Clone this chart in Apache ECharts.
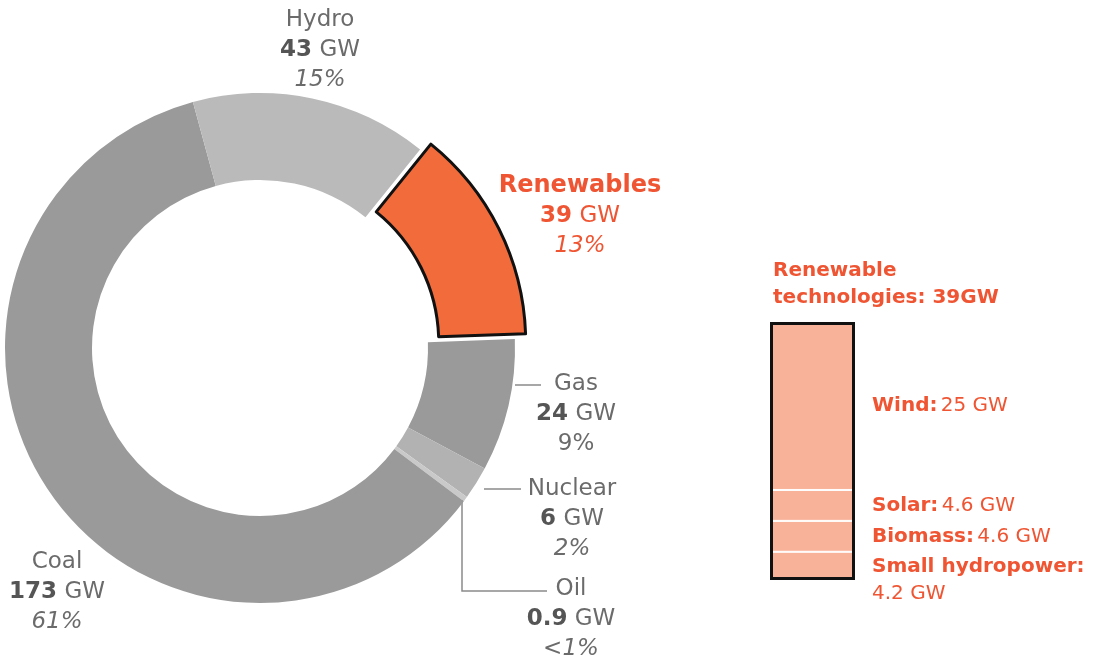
<!DOCTYPE html>
<html>
<head>
<meta charset="utf-8">
<script src="https://cdn.jsdelivr.net/npm/echarts@6/dist/echarts.min.js"></script>
<style>
  html, body { margin: 0; padding: 0; background: #fff; }
  #chart { width: 1095px; height: 657px; }
</style>
</head>
<body>
<div id="chart"></div>
<script>
// capacity by source, clockwise from 3 o'clock
var sources = ['Gas', 'Nuclear', 'Oil', 'Coal', 'Hydro', 'Renewables'];
var sourceGW = [24, 6, 0.9, 173, 43, 39];
var shareLabels = ['9%', '2%', '<1%', '61%', '15%', '13%'];
var sourceColors = ['#9a9a9a', '#b2b2b2', '#c9c9c9', '#9a9a9a', '#bababa', '#f26c3b'];

// renewable breakdown, bottom to top
var techNames = ['Small hydropower', 'Biomass', 'Solar', 'Wind'];
var techGW = [4.2, 4.6, 4.6, 25];

var ORANGE = '#ef5532';
var GREY = '#6b6b6b';
var FONT = 'DejaVu Sans';

var chart = echarts.init(document.getElementById('chart'));

var CENTER = [260, 348];
var START = 2;
var POP = 12; // how far the renewables slice is pulled out

// where each pie label sits (text block middle) and its leader line
var labelPos = {
    Hydro: { x: 320, y: 50 },
    Renewables: { x: 580, y: 216 },
    Gas: { x: 576, y: 414, line: [[515, 385], [541, 385]] },
    Nuclear: { x: 572, y: 519, line: [[484, 489], [521, 489]] },
    Oil: { x: 571, y: 619, line: [[462, 500], [462, 591], [547, 591]] },
    Coal: { x: 57, y: 592 }
};

function txt(color, extra) {
    var s = { fontFamily: FONT, fontSize: 23, color: color, lineHeight: 30 };
    for (var k in extra) s[k] = extra[k];
    return s;
}

var pieRich = {
    n: txt(GREY),
    v: txt('#555', { fontWeight: 'bold' }),
    p: txt(GREY, { fontStyle: 'italic' }),
    pu: txt(GREY),
    on: txt(ORANGE),
    ob: txt(ORANGE, { fontWeight: 'bold', fontSize: 24 }),
    ov: txt(ORANGE, { fontWeight: 'bold' }),
    op: txt(ORANGE, { fontStyle: 'italic' })
};

// renewables is the last slice clockwise, so it ends at START
var totalGW = sourceGW.reduce(function (a, b) { return a + b; }, 0);
var renIdx = sources.indexOf('Renewables');
var midAngle = (START + sourceGW[renIdx] / totalGW * 180) * Math.PI / 180;
var popCenter = [CENTER[0] + POP * Math.cos(midAngle), CENTER[1] - POP * Math.sin(midAngle)];

// base ring: everything except the pulled-out slice, plus all labels
var baseData = sources.map(function (name, i) {
    return {
        name: name,
        value: sourceGW[i],
        itemStyle: { color: name === 'Renewables' ? 'rgba(0,0,0,0)' : sourceColors[i] },
        labelLine: { show: !!labelPos[name].line }
    };
});

// second ring: only the renewables slice, shifted outward
var popData = sources.map(function (name, i) {
    var isRen = name === 'Renewables';
    return {
        name: name,
        value: sourceGW[i],
        itemStyle: isRen
            ? { color: sourceColors[i], borderColor: '#111', borderWidth: 3 }
            : { color: 'rgba(0,0,0,0)' }
    };
});

var barSeries = techNames.map(function (name, i) {
    var isLast = name === 'Small hydropower';
    return {
        name: name,
        type: 'bar',
        stack: 'tech',
        barWidth: '100%',
        barGap: '-100%',
        data: [techGW[i]],
        itemStyle: { color: '#f9b29a', borderColor: '#fff', borderWidth: 1 },
        label: {
            show: true,
            position: 'right',
            distance: 17,
            align: 'left',
            offset: isLast ? [0, 14] : [0, 0],
            formatter: isLast
                ? '{b|' + name + ':}\n{n|' + techGW[i] + ' GW}'
                : '{b|' + name + ':} {n|' + techGW[i] + ' GW}',
            rich: {
                b: { fontFamily: FONT, fontSize: 20, fontWeight: 'bold', color: ORANGE, lineHeight: 27 },
                n: { fontFamily: FONT, fontSize: 20, color: ORANGE, lineHeight: 27 }
            }
        },
        emphasis: { disabled: true }
    };
});

var techTotal = techGW.reduce(function (a, b) { return a + b; }, 0);

barSeries.push({
    name: 'outline',
    type: 'bar',
    barWidth: '100%',
    barGap: '-100%',
    z: 5,
    data: [techTotal],
    itemStyle: { color: 'rgba(0,0,0,0)', borderColor: '#111', borderWidth: 3 },
    emphasis: { disabled: true }
});

var option = {
    animation: false,
    title: {
        text: 'Renewable\ntechnologies: 39GW',
        left: 768,
        top: 252,
        textStyle: { fontFamily: FONT, fontSize: 20, fontWeight: 'bold', color: ORANGE, lineHeight: 27 }
    },
    grid: { left: 770, top: 322, width: 85, height: 258 },
    xAxis: { type: 'category', data: [''], show: false },
    yAxis: { type: 'value', min: 0, max: techTotal, show: false },
    series: [{
        type: 'pie',
        center: CENTER,
        radius: [168, 255],
        startAngle: START,
        clockwise: true,
        avoidLabelOverlap: false,
        emphasis: { disabled: true },
        data: baseData,
        label: {
            show: true,
            position: 'outside',
            formatter: function (p) {
                var i = p.dataIndex;
                var name = sources[i];
                if (name === 'Renewables') {
                    return '{ob|' + name + '}\n{ov|' + sourceGW[i] + '}{on| GW}\n{op|' + shareLabels[i] + '}';
                }
                var pct = name === 'Gas' ? '{pu|' + shareLabels[i] + '}' : '{p|' + shareLabels[i] + '}';
                return '{n|' + name + '}\n{v|' + sourceGW[i] + '}{n| GW}\n' + pct;
            },
            rich: pieRich
        },
        labelLine: { lineStyle: { color: '#8a8a8a', width: 1.5 }, length: 10, length2: 10 },
        labelLayout: function (params) {
            var pos = labelPos[sources[params.dataIndex]];
            var res = { x: pos.x, y: pos.y, align: 'center', verticalAlign: 'middle' };
            if (pos.line) res.labelLinePoints = pos.line;
            return res;
        }
    }, {
        type: 'pie',
        center: popCenter,
        radius: [168, 255],
        startAngle: START,
        clockwise: true,
        silent: true,
        z: 3,
        label: { show: false },
        labelLine: { show: false },
        emphasis: { disabled: true },
        data: popData
    }].concat(barSeries)
};

chart.setOption(option);
</script>
</body>
</html>
